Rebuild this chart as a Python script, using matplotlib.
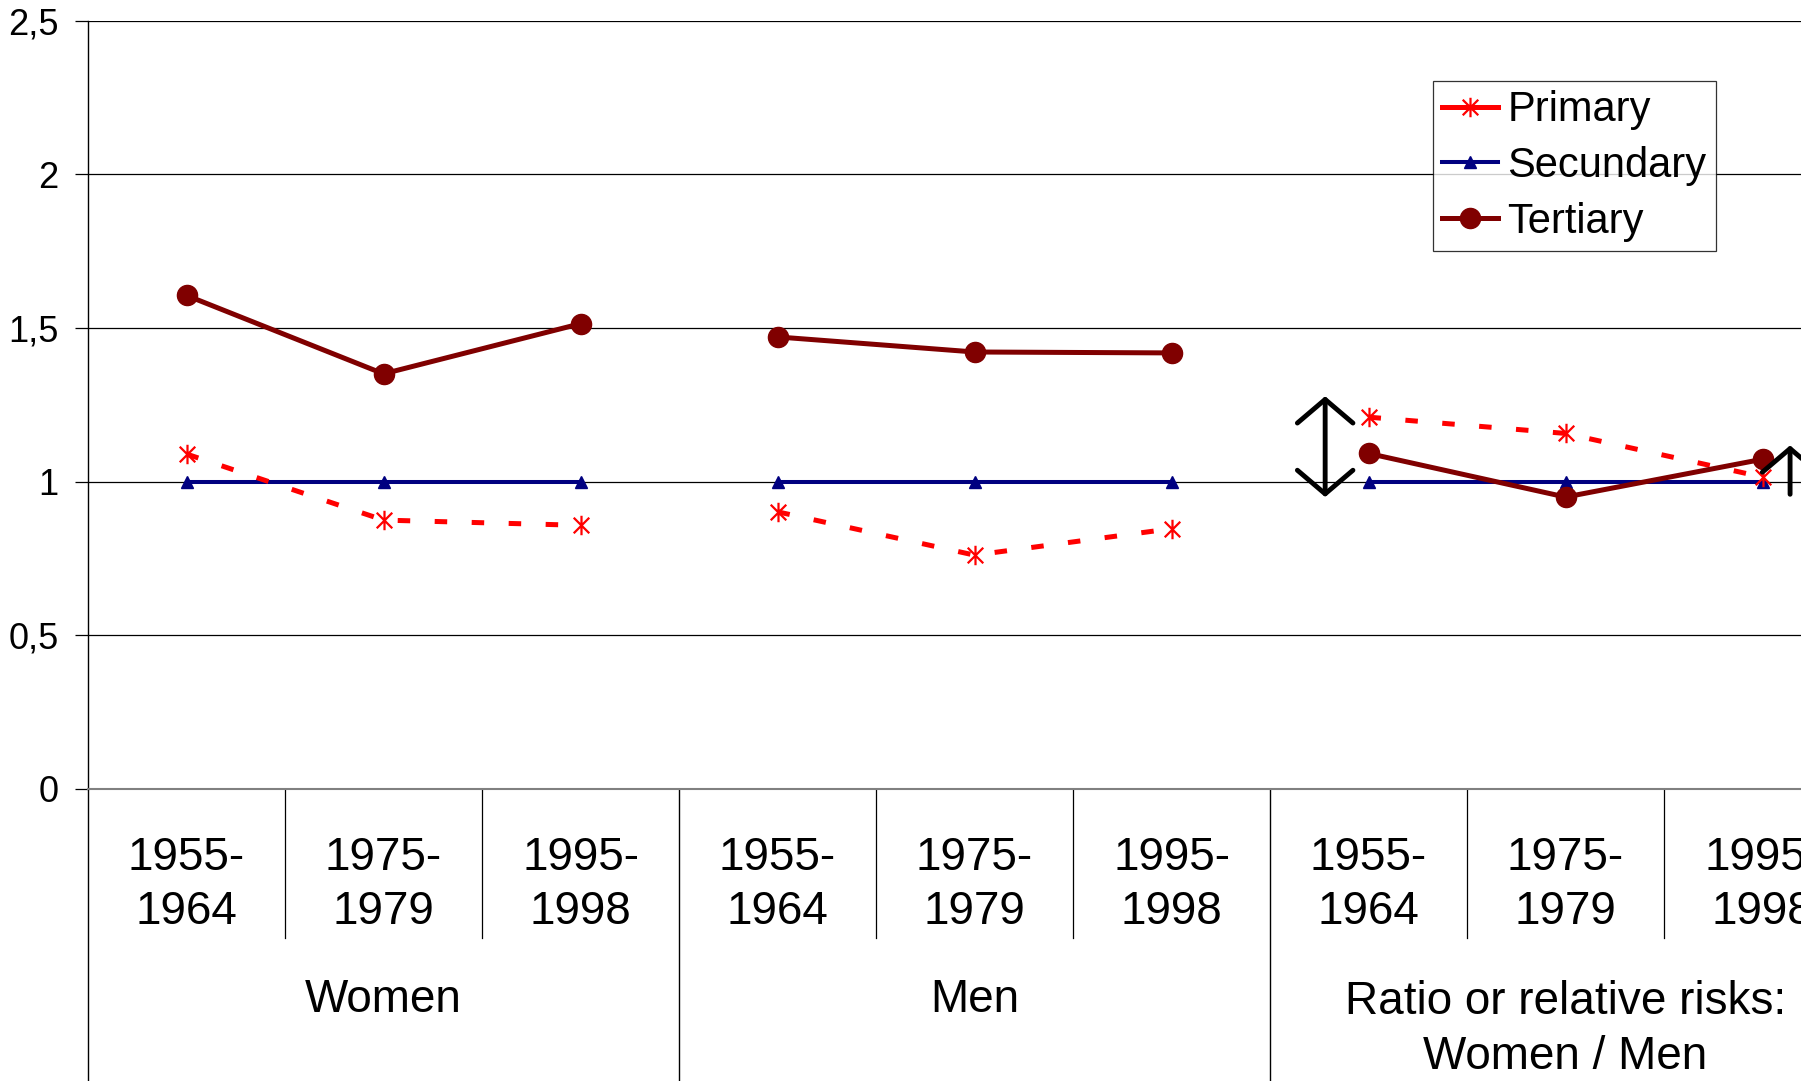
"""Relative risks by education level, women / men / ratio."""

import matplotlib
matplotlib.use("Agg")
import matplotlib.pyplot as plt
from matplotlib.lines import Line2D
from matplotlib.path import Path
from matplotlib.transforms import blended_transform_factory

plt.rcParams["font.family"] = ["Liberation Sans", "DejaVu Sans"]

periods = ["1955-\n1964", "1975-\n1979", "1995-\n1998"]
groups = ["Women", "Men", "Ratio or relative risks:\nWomen / Men"]

# values per category: Women x3, Men x3, Ratio x3
primary = [1.09, 0.875, 0.858, 0.902, 0.761, 0.847, 1.21, 1.157, 1.015]
secundary = [1.0, 1.0, 1.0, 1.0, 1.0, 1.0, 1.0, 1.0, 1.0]
tertiary = [1.606, 1.351, 1.514, 1.471, 1.422, 1.419, 1.092, 0.950, 1.073]

yticks = [0, 0.5, 1, 1.5, 2, 2.5]
ytick_labels = ["0", "0,5", "1", "1,5", "2", "2,5"]

# annotation arrows in the ratio panel: (x, low, high, style)
arrows = [(5.78, 0.950, 1.278, "<->"), (8.14, 0.959, 1.118, "->")]

RED = "#ff0000"
NAVY = "#000080"
MAROON = "#800000"
FS = 33

# excel-style asterisk: an X with a vertical bar through it
STAR = Path([(-0.8, -0.8), (0.8, 0.8), (-0.8, 0.8), (0.8, -0.8),
             (0, -1), (0, 1)],
            [Path.MOVETO, Path.LINETO] * 3)

W, H = 1801, 1081
fig = plt.figure(figsize=(W / 100, H / 100), dpi=100)
# axes runs past the right edge of the figure, like the source
ax = fig.add_axes([88 / W, (H - 789) / H, 1773 / W, 768.3 / H])

n_per = len(periods)
for g in range(len(groups)):
    xs = list(range(g * n_per, (g + 1) * n_per))
    sl = slice(g * n_per, (g + 1) * n_per)
    ax.plot(xs, secundary[sl], color=NAVY, lw=2.9, marker="^", ms=8,
            zorder=3)
    ax.plot(xs, primary[sl], color=RED, lw=3.6, dashes=(2.5, 4.9),
            marker=STAR, ms=14, mew=1.6, zorder=4)
    ax.plot(xs, tertiary[sl], color=MAROON, lw=3.6, marker="o", ms=14.5,
            zorder=5)

for x, lo, hi, style in arrows:
    ax.annotate("", xy=(x, hi), xytext=(x, lo),
                arrowprops=dict(arrowstyle=f"{style},head_length=17,head_width=20",
                                mutation_scale=1, lw=3.5, color="black",
                                shrinkA=0, shrinkB=0, capstyle="round",
                                joinstyle="round"),
                zorder=6)

ax.set_xlim(-0.5, len(primary) - 0.5)
ax.set_ylim(0, 2.5)
ax.set_yticks(yticks)
ax.set_yticklabels(ytick_labels, fontsize=26)
ax.tick_params(axis="y", length=9.5, width=0.9, pad=11.5, direction="out")
ax.set_xticks([])
ax.yaxis.grid(True, color="black", lw=0.9)
ax.set_axisbelow(True)
for side in ("top", "right"):
    ax.spines[side].set_visible(False)
ax.spines["left"].set_linewidth(1.0)
ax.spines["bottom"].set_color("#808080")
ax.spines["bottom"].set_linewidth(1.5)

# category table under the axis
trans = blended_transform_factory(ax.transData, ax.transAxes)
for i in range(len(primary)):
    ax.text(i, -0.125, periods[i % n_per], transform=trans, ha="center",
            va="center", fontsize=FS, linespacing=1.32)
    if i % n_per:
        ax.plot([i - 0.5, i - 0.5], [0, -0.194], transform=trans,
                color="black", lw=0.9, clip_on=False)
for g, name in enumerate(groups):
    xc = g * n_per + (n_per - 1) / 2
    yc = -0.275 if "\n" not in name else -0.313
    ax.text(xc, yc, name, transform=trans, ha="center", va="center",
            fontsize=FS, linespacing=1.32)
    ax.plot([g * n_per - 0.5] * 2, [0, -0.45], transform=trans,
            color="black", lw=1.0, clip_on=False)

handles = [
    Line2D([], [], color=RED, lw=3.6, marker=STAR, ms=14, mew=1.6),
    Line2D([], [], color=NAVY, lw=2.9, marker="^", ms=8),
    Line2D([], [], color=MAROON, lw=3.6, marker="o", ms=14.5),
]
leg = fig.legend(handles, ["Primary", "Secundary", "Tertiary"],
                 loc="upper left", bbox_to_anchor=(1433 / W, 1 - 81 / H),
                 bbox_transform=fig.transFigure, borderaxespad=0,
                 fontsize=30, frameon=True, fancybox=False,
                 handlelength=1.35, handletextpad=0.22, borderpad=0.22,
                 labelspacing=0.38)
leg.get_frame().set_edgecolor("black")
leg.get_frame().set_linewidth(0.9)

fig.savefig("out.png", dpi=100)
